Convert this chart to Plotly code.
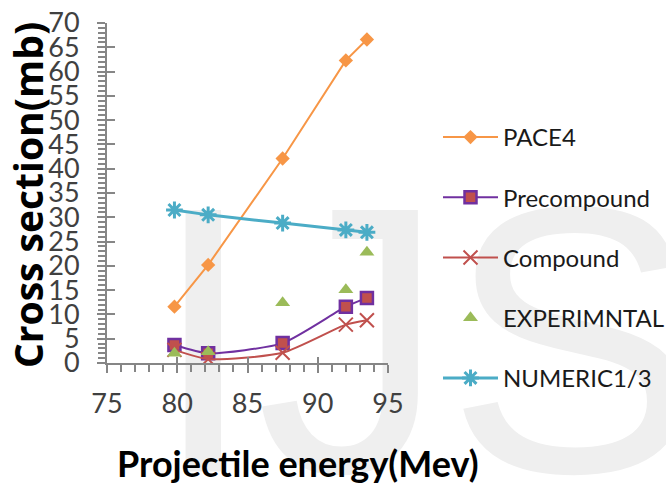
import plotly.graph_objects as go

# Projectile energies (MeV)
energy = [79.8, 82.2, 87.5, 92.0, 93.5]

# Cross sections (mb)
pace4 = [11.6, 20.2, 42.1, 62.3, 66.6]
precompound = [3.7, 2.0, 4.1, 11.6, 13.4]
compound = [2.7, 0.8, 2.1, 7.9, 8.8]
experimental = [2.0, 2.3, 12.4, 15.1, 22.8]
numeric13 = [31.5, 30.5, 28.8, 27.4, 26.9]

x_ticks = [75, 80, 85, 90, 95]
y_ticks = list(range(0, 75, 5))

ORANGE = "#F79646"
PURPLE = "#7030A0"
RED = "#C0504D"
GREEN = "#9BBB59"
CYAN = "#4BACC6"
AXIS = "#868686"
FONT = "Lato, 'Open Sans', sans-serif"

# plot area in pixels (fixed margins)
L, R, T, B = 107, 388, 23, 363
PW, PH = R - L, B - T


def px_x(px):
    return (px - L) / PW


def px_y(py):
    return (B - py) / PH


fig = go.Figure()

fig.add_trace(go.Scatter(
    x=energy, y=pace4, name="PACE4", mode="lines+markers", legendgroup="a",
    line=dict(color=ORANGE, width=2),
    marker=dict(symbol="diamond", size=11, color=ORANGE),
))
fig.add_trace(go.Scatter(
    x=energy, y=precompound, name="Precompound", mode="lines+markers", legendgroup="b",
    line=dict(color=PURPLE, width=2, shape="spline", smoothing=0.6),
    marker=dict(symbol="square", size=12, color=RED, line=dict(color=PURPLE, width=2.5)),
))
fig.add_trace(go.Scatter(
    x=energy, y=compound, name="Compound", mode="lines+markers", legendgroup="c",
    line=dict(color=RED, width=2, shape="spline", smoothing=0.6),
    marker=dict(symbol="x-thin", size=14, color=RED, line=dict(color=RED, width=2)),
))
fig.add_trace(go.Scatter(
    x=energy, y=experimental, name="EXPERIMNTAL", mode="markers", legendgroup="d",
    marker=dict(symbol="triangle-up", size=13, color=GREEN),
))
fig.add_trace(go.Scatter(
    x=energy, y=numeric13, name="NUMERIC1/3", mode="lines+markers", legendgroup="e",
    line=dict(color=CYAN, width=3),
    marker=dict(symbol="asterisk", size=14, color=CYAN, line=dict(color=CYAN, width=3)),
))

# empty trace so the inner (crossing) tick axes are rendered
fig.add_trace(go.Scatter(x=[], y=[], xaxis="x2", yaxis="y2", showlegend=False, hoverinfo="skip"))

minor_ticks = dict(ticks="outside", ticklen=7, tickwidth=2, tickcolor=AXIS, dtick=1)
axis_common = dict(
    showgrid=False, zeroline=False, showline=True, linecolor=AXIS, linewidth=2,
    ticks="outside", ticklen=8, tickwidth=2, tickcolor=AXIS,
    tickfont=dict(family=FONT, size=27, color="#404040"),
    minor=minor_ticks,
)

fig.update_layout(
    width=666, height=489,
    margin=dict(l=L, r=666 - R, t=T, b=489 - B, autoexpand=False),
    paper_bgcolor="white", plot_bgcolor="rgba(0,0,0,0)",
    font=dict(family=FONT, color="#262626"),
    xaxis=dict(range=[75, 95], tickvals=x_ticks, ticklabelstandoff=8, **axis_common),
    yaxis=dict(range=[0, 70], tickvals=y_ticks, ticklabelstandoff=12, **axis_common),
    xaxis2=dict(range=[75, 95], overlaying="x", anchor="y", side="bottom",
                tickvals=x_ticks, ticks="inside", ticklen=6, tickwidth=2, tickcolor=AXIS,
                showticklabels=False, showline=False, showgrid=False, zeroline=False),
    yaxis2=dict(range=[0, 70], overlaying="y", anchor="x", side="left",
                tickvals=y_ticks, ticks="inside", ticklen=8, tickwidth=2, tickcolor=AXIS,
                showticklabels=False, showline=False, showgrid=False, zeroline=False),
    legend=dict(
        x=px_x(438), xanchor="left", y=px_y(115), yanchor="top",
        font=dict(family=FONT, size=24, color="#1a1a1a"),
        tracegroupgap=26, bgcolor="rgba(0,0,0,0)", itemwidth=55,
    ),
    showlegend=True,
)

# axis titles
fig.add_annotation(
    text="<b>Cross section(mb)</b>", xref="paper", yref="paper",
    x=px_x(27), y=px_y(195), xanchor="center", yanchor="middle",
    textangle=-90, showarrow=False,
    font=dict(family="'Open Sans', Lato, sans-serif", size=39, color="#000000"),
)
fig.add_annotation(
    text="<b>Projectile energy(Mev)</b>", xref="paper", yref="paper",
    x=px_x(298), y=px_y(463), xanchor="center", yanchor="middle",
    showarrow=False,
    font=dict(family=FONT, size=36, color="#000000"),
)

# faint journal watermark behind the chart
fig.add_shape(
    type="rect", xref="paper", yref="paper", layer="below",
    x0=px_x(150), x1=px_x(700), y0=px_y(440), y1=px_y(168),
    line=dict(width=0), fillcolor="rgba(0,0,0,0)",
    label=dict(text="IJS", textposition="middle center",
               font=dict(family="Liberation Sans, Arial, sans-serif", size=380, color="#efefef")),
)

fig.write_html("out.html")
